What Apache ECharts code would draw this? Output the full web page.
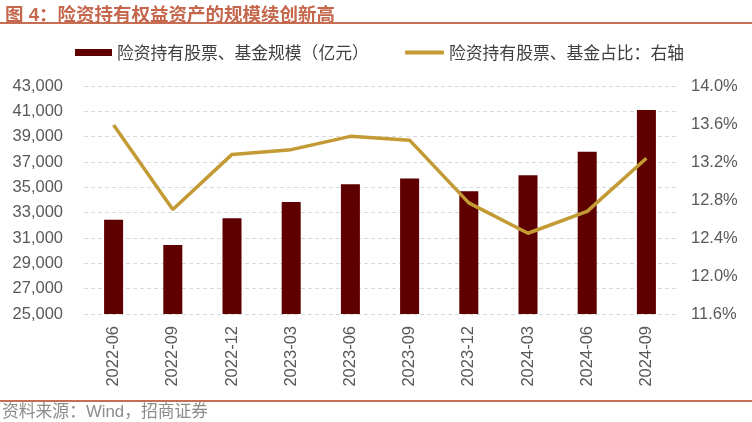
<!DOCTYPE html>
<html>
<head>
<meta charset="utf-8">
<script src="https://cdn.jsdelivr.net/npm/echarts@6/dist/echarts.min.js"></script>
<style>
  html, body { margin: 0; padding: 0; background: #fff; }
  #chart { width: 752px; height: 422px; }
</style>
</head>
<body>
<div id="chart"></div>
<script>
// 季度
var quarters = ['2022-06', '2022-09', '2022-12', '2023-03', '2023-06', '2023-09', '2023-12', '2024-03', '2024-06', '2024-09']
// 险资持有股票、基金规模（亿元）
var holdings = [32450, 30450, 32550, 33850, 35250, 35700, 34700, 35950, 37800, 41100]
// 险资持有股票、基金占比（%）右轴
var shareRatio = [13.59, 12.70, 13.28, 13.33, 13.47, 13.43, 12.77, 12.45, 12.68, 13.24]

var barName = '险资持有股票、基金规模（亿元）'
var lineName = '险资持有股票、基金占比：右轴'
var redLine = '#C66E53'
var axisText = '#595959'

var myChart = echarts.init(document.getElementById('chart'))
var option = {
  animation: false,
  title: {
    text: '图 4：险资持有权益资产的规模续创新高',
    left: 0,
    top: 2,
    textStyle: {
      color: '#C4674C',
      fontSize: 18.5,
      fontWeight: 'bold',
      fontFamily: 'Liberation Sans, Noto Sans CJK SC'
    }
  },
  graphic: [
    // 标题下横线
    { type: 'line', shape: { x1: 0, y1: 23, x2: 752, y2: 23 }, style: { stroke: redLine, lineWidth: 2 } },
    // 底部横线
    { type: 'line', shape: { x1: 0, y1: 401, x2: 752, y2: 401 }, style: { stroke: redLine, lineWidth: 2 } },
    {
      type: 'text', left: 2, top: 404,
      style: { text: '资料来源：Wind，招商证券', fill: '#8C8C8C', fontSize: 16.8, fontFamily: 'Liberation Sans, Noto Sans CJK SC' }
    }
  ],
  legend: [
    {
      data: [barName],
      left: 70,
      top: 39,
      itemWidth: 37,
      itemHeight: 7,
      icon: 'rect',
      textStyle: { color: '#404040', fontSize: 16.8, fontFamily: 'Noto Sans CJK SC' }
    },
    {
      data: [lineName],
      left: 400,
      top: 39,
      itemWidth: 39,
      itemHeight: 4,
      icon: 'roundRect',
      textStyle: { color: '#404040', fontSize: 16.8, fontFamily: 'Noto Sans CJK SC' }
    }
  ],
  grid: {
    left: 84,
    right: 76,
    top: 86,
    bottom: 108
  },
  xAxis: {
    type: 'category',
    data: quarters,
    axisLine: { show: false },
    axisTick: { show: false },
    axisLabel: {
      rotate: 90,
      margin: 12,
      color: axisText,
      fontSize: 16.5,
      fontFamily: 'Liberation Sans'
    }
  },
  yAxis: [
    {
      type: 'value',
      min: 25000,
      max: 43000,
      interval: 2000,
      axisLine: { show: false },
      axisTick: { show: false },
      axisLabel: {
        margin: 21,
        color: axisText,
        fontSize: 16.5,
        fontFamily: 'Liberation Sans',
        formatter: function (v) { return v.toLocaleString('en-US') }
      },
      splitLine: { lineStyle: { color: '#D9D9D9', type: [4, 3], width: 1 } }
    },
    {
      type: 'value',
      min: 11.6,
      max: 14.0,
      interval: 0.4,
      axisLine: { show: false },
      axisTick: { show: false },
      splitLine: { show: false },
      axisLabel: {
        margin: 15,
        color: axisText,
        fontSize: 16.5,
        fontFamily: 'Liberation Sans',
        formatter: function (v) { return v.toFixed(1) + '%' }
      }
    }
  ],
  series: [
    {
      name: barName,
      type: 'bar',
      data: holdings,
      barWidth: 19,
      itemStyle: { color: '#5E0000' }
    },
    {
      name: lineName,
      type: 'line',
      yAxisIndex: 1,
      data: shareRatio,
      symbol: 'none',
      lineStyle: { color: '#C39A33', width: 3.5 },
      itemStyle: { color: '#C39A33' }
    }
  ]
}
myChart.setOption(option)
</script>
</body>
</html>
